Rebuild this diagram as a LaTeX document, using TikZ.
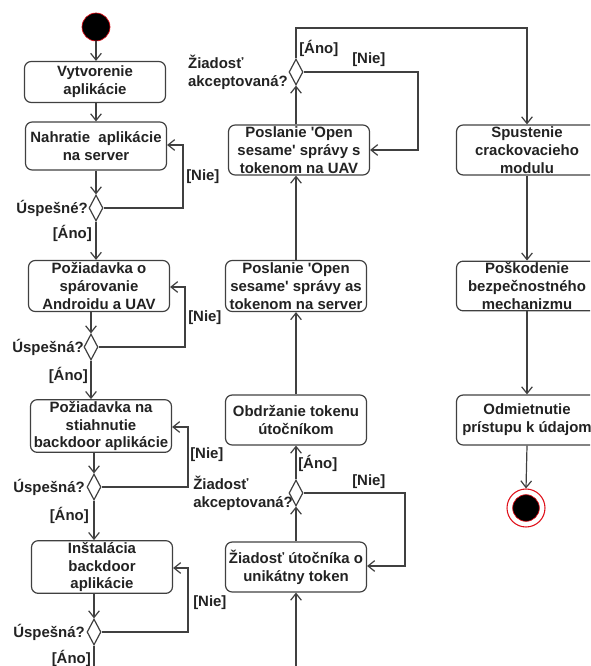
\documentclass[tikz,border=0pt]{standalone}
\usepackage{fontspec}
\setmainfont{Liberation Sans}
\usetikzlibrary{arrows.meta,shapes.geometric}
\definecolor{ln}{HTML}{404040}
\definecolor{tx}{HTML}{222222}
\definecolor{rd}{HTML}{E0101A}
\newcommand{\sq}{\textquotesingle}
\begin{document}
\begin{tikzpicture}[x=0.75pt,y=-0.75pt,
  font=\fontsize{11.2}{13.4}\selectfont\bfseries,
  every node/.style={text=tx},
  act/.style={draw=ln,line width=0.9pt,rounded corners=5pt,align=center,inner sep=1pt,
    minimum width=105.75pt,minimum height=#1},
  act/.default=37.5pt,
  dec/.style={draw=ln,line width=0.9pt,diamond,inner sep=0pt,minimum width=10.5pt,minimum height=19.5pt,fill=white},
  lbl/.style={inner sep=0pt,align=left},
  flow/.style={draw=ln,line width=0.9pt,-{Straight Barb[length=5pt,width=8pt]}},
  wire/.style={draw=ln,line width=0.9pt}
]
\useasboundingbox (0,0) rectangle (590,666);
\clip (0,0) rectangle (590,666);
% ---------- left column ----------
\node[circle,fill=black,draw=rd,line width=0.5pt,minimum size=21pt,inner sep=0pt] (start) at (96,27) {};
\node[act=30.75pt] (b1) at (95,82) {Vytvorenie\\aplikácie};
\node[act=36pt] (b2) at (96,146) {Nahratie\ \ aplikácie\\na server};
\node[dec] (d1) at (96,208) {};
\node[act=38.25pt] (b3) at (99,286) {Požiadavka o\\spárovanie\\Androidu a UAV};
\node[dec] (d2) at (91,347) {};
\node[act=36pt] (b4) at (101,426) {Požiadavka na\\stiahnutie\\backdoor aplikácie};
\node[dec] (d3) at (94,487) {};
\node[act=37.5pt] (b5) at (102,567) {Inštalácia\\backdoor\\aplikácie};
\node[dec] (d4) at (94,632) {};
\coordinate (lend) at (94,670);

\path[flow] (start) -- (start |- b1.north);
\path[flow] (b1.south -| b2) -- (b2.north);
\path[flow] (b2.south -| d1) -- (d1.north);
\path[flow] (d1.south) -- (d1.south |- b3.north);
\path[flow] (b3.south -| d2) -- (d2.north);
\path[flow] (d2.south) -- (d2.south |- b4.north);
\path[flow] (b4.south -| d3) -- (d3.north);
\path[flow] (d3.south) -- (d3.south |- b5.north);
\path[flow] (b5.south -| d4) -- (d4.north);
\path[wire] (d4.south) -- (lend);

\path[flow] (d1.east) -- (183,208) -- (183,145) -- (b2.east |- 0,145);
\path[flow] (d2.east) -- (185,347) -- (185,287) -- (b3.east |- 0,287);
\path[flow] (d3.east) -- (188,487) -- (188,427) -- (b4.east |- 0,427);
\path[flow] (d4.east) -- (188,632) -- (188,568) -- (b5.east |- 0,568);

\node[lbl,anchor=east] (q1) at (88,208) {Úspešné?};
\node[lbl,anchor=east] (q2) at (84,347) {Úspešná?};
\node[lbl,anchor=east] (q3) at (85,487) {Úspešná?};
\node[lbl,anchor=east] (q4) at (85,632) {Úspešná?};
\node[lbl,anchor=east] (a1) at (92,233) {[Áno]};
\node[lbl,anchor=east] (a2) at (88,375) {[Áno]};
\node[lbl,anchor=east] (a3) at (89,515) {[Áno]};
\node[lbl,anchor=east] (a4) at (91,658) {[Áno]};
\node[lbl,anchor=west] (n1) at (186,177) {[Nie]};
\node[lbl,anchor=west] (n2) at (188,318) {[Nie]};
\node[lbl,anchor=west] (n3) at (190,455) {[Nie]};
\node[lbl,anchor=west] (n4) at (193,603) {[Nie]};

% ---------- middle column ----------
\node[dec] (dm1) at (296,72) {};
\node[act=37.5pt] (m1) at (299,150) {Poslanie \sq Open\\sesame\sq{} správy s\\tokenom na UAV};
\node[act=38.25pt] (m2) at (296,286) {Poslanie \sq Open\\sesame\sq{} správy as\\tokenom na server};
\node[act=37.5pt] (m3) at (296,420) {Obdržanie tokenu\\útočníkom};
\node[dec] (dm2) at (296,493) {};
\node[act=37.5pt] (m4) at (296,567) {Žiadosť útočníka o\\unikátny token};
\coordinate (mbot) at (296,670);
\coordinate (tl) at (296,28);
\coordinate (tr) at (527,28);

\path[flow] (mbot) -- (m4.south);
\path[flow] (m4.north) -- (dm2.south);
\path[flow] (dm2.north) -- (m3.south);
\path[flow] (m3.north) -- (m2.south);
\path[flow] (m2.north) -- (m2.north |- m1.south);
\path[flow] (m1.north -| dm1) -- (dm1.south);
\path[flow] (dm2.east) -- (405,493) -- (405,566) -- (m4.east |- 0,566);
\path[flow] (dm1.east) -- (418,72) -- (418,150) -- (m1.east |- 0,150);

\node[lbl,anchor=east] (z1) at (288,72) {Žiadosť\\akceptovaná?};
\node[lbl,anchor=west] (z2) at (193,493) {Žiadosť\\akceptovaná?};
\node[lbl,anchor=west] (ma1) at (299,48) {[Áno]};
\node[lbl,anchor=west] (mn1) at (352,60) {[Nie]};
\node[lbl,anchor=west] (ma2) at (298,463) {[Áno]};
\node[lbl,anchor=west] (mn2) at (352,482) {[Nie]};

% ---------- right column ----------
\node[act=37.5pt] (r1) at (527,150) {Spustenie\\crackovacieho\\modulu};
\node[act=36pt] (r2) at (527,286) {Poškodenie\\bezpečnostného\\mechanizmu};
\node[act=37.5pt] (r3) at (527,420) {Odmietnutie\\prístupu k údajom};
\node[circle,draw=rd,line width=0.8pt,fill=white,minimum size=28.5pt,inner sep=0pt] (fin) at (526,508) {};
\node[circle,fill=black,draw=rd,line width=0.5pt,minimum size=20pt,inner sep=0pt] (finin) at (fin.center) {};

\path[flow] (dm1.north) -- (tl) -- (tr) -- (r1.north);
\path[flow] (r1.south) -- (r2.north);
\path[flow] (r2.south) -- (r3.north);
\path[flow] (r3.south) -- (fin.north);
\end{tikzpicture}
\end{document}
